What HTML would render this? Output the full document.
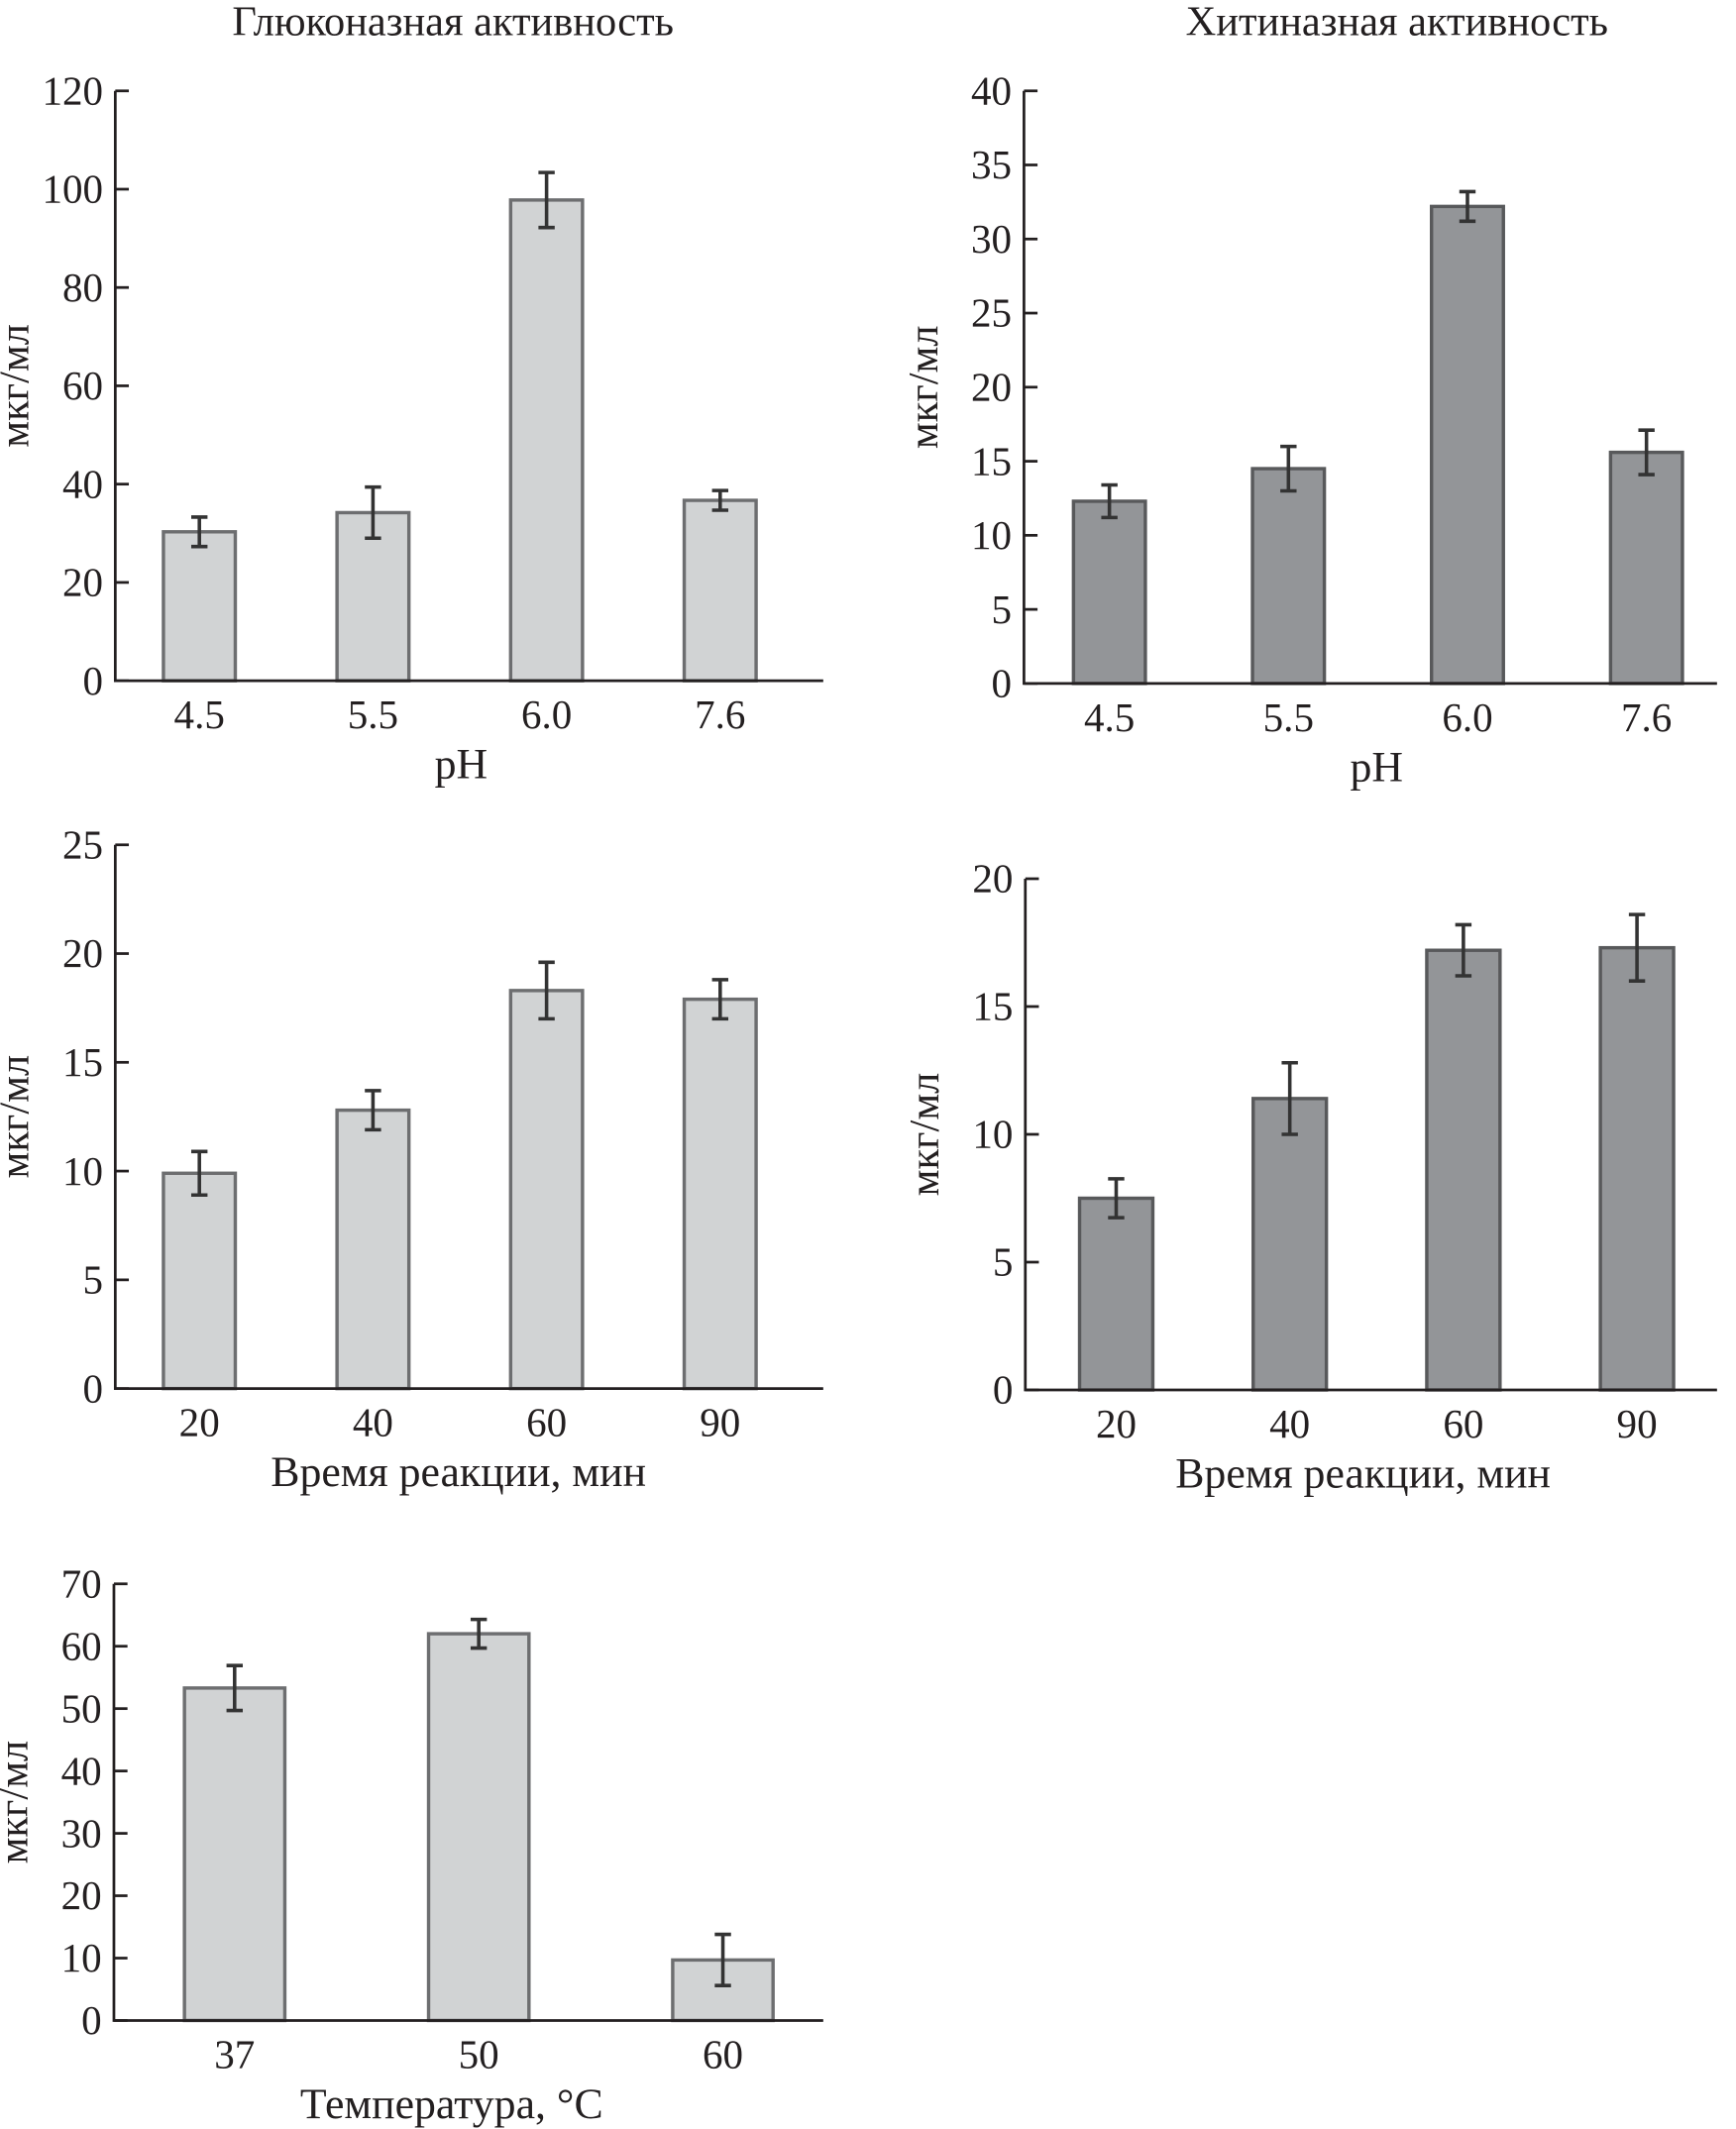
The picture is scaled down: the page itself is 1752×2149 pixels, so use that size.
<!DOCTYPE html>
<html><head><meta charset="utf-8"><style>
html,body{margin:0;padding:0;background:#fff}
svg{display:block}
text{font-family:"Liberation Serif",serif;fill:#231f20}
</style></head><body>
<svg id="fig" width="1752" height="2149" viewBox="0 0 1280 1570" xmlns="http://www.w3.org/2000/svg">
<text x="334" y="26" font-size="31" text-anchor="middle">Глюконазная активность</text>
<text x="1030" y="26" font-size="31" text-anchor="middle">Хитиназная активность</text>
</svg>
<script>
// Panel 1: glucanase vs pH
const p1Cats=["4.5","5.5","6.0","7.6"];
const p1Vals=[30.3,34.2,97.8,36.7];
const p1Err=[3,5.2,5.6,2];
const p1Ticks=[0,20,40,60,80,100,120];
// Panel 2: chitinase vs pH
const p2Cats=["4.5","5.5","6.0","7.6"];
const p2Vals=[12.3,14.5,32.2,15.6];
const p2Err=[1.1,1.5,1.0,1.5];
const p2Ticks=[0,5,10,15,20,25,30,35,40];
// Panel 3: glucanase vs time
const p3Cats=["20","40","60","90"];
const p3Vals=[9.9,12.8,18.3,17.9];
const p3Err=[1.0,0.9,1.3,0.9];
const p3Ticks=[0,5,10,15,20,25];
// Panel 4: chitinase vs time
const p4Cats=["20","40","60","90"];
const p4Vals=[7.5,11.4,17.2,17.3];
const p4Err=[0.76,1.4,1.0,1.3];
const p4Ticks=[0,5,10,15,20];
// Panel 5: glucanase vs temperature
const p5Cats=["37","50","60"];
const p5Vals=[53.3,62,9.7];
const p5Err=[3.6,2.3,4.1];
const p5Ticks=[0,10,20,30,40,50,60,70];

const NS="http://www.w3.org/2000/svg";
const svg=document.getElementById('fig');
function mk(tag,attrs,parent){const e=document.createElementNS(NS,tag);for(const k in attrs)e.setAttribute(k,attrs[k]);(parent||svg).appendChild(e);return e;}

function panel(cfg){
  const g=mk('g',{});
  
  
  const max=cfg.ticks[cfg.ticks.length-1];
  const y=v=>cfg.y0-(v/max)*(cfg.y0-cfg.yTop);
  const x=i=>cfg.x0+cfg.c0+i*cfg.step;
  cfg.vals.forEach((v,i)=>{
    const r=mk('rect',{x:x(i)-cfg.bw/2,y:y(v),width:cfg.bw,height:cfg.y0-y(v),fill:cfg.fill,stroke:cfg.stroke,'stroke-width':2.5},g);
    
    
    const e=cfg.err[i];
    const eb=mk('path',{d:`M${x(i)} ${y(v+e)}V${y(v-e)}M${x(i)-6} ${y(v+e)}H${x(i)+6}M${x(i)-6} ${y(v-e)}H${x(i)+6}`,stroke:'#333',fill:'none','stroke-width':2.6},g);
    
    
    const t=mk('text',{x:x(i),y:cfg.y0+35,'font-size':30,'text-anchor':'middle'},g);
    t.textContent=cfg.cats[i];
    
    
  });
  const ax=mk('path',{d:`M${cfg.x0} ${cfg.yTop}V${cfg.y0}H${cfg.xEnd}`,stroke:'#231f20',fill:'none','stroke-width':2},g);
  
  
  cfg.ticks.forEach(tv=>{
    mk('line',{x1:cfg.x0,x2:cfg.x0+10,y1:y(tv),y2:y(tv),stroke:'#231f20','stroke-width':2},g);
    const t=mk('text',{x:cfg.x0-9,y:y(tv)+10,'font-size':30,'text-anchor':'end'},g);
    t.textContent=tv;
    
    
  });
  const yl=mk('text',{transform:`translate(${cfg.x0-64},${(cfg.y0+cfg.yTop)/2}) rotate(-90)`,'font-size':31,'text-anchor':'middle'},g);
  yl.textContent='мкг/мл';
  
  
  const xl=mk('text',{x:cfg.xlX,y:cfg.y0+72,'font-size':32,'text-anchor':'middle'},g);
  xl.textContent=cfg.xlabel;
  
  
}
const light='#d1d3d4', dark='#939598';
panel({name:'panel-glucanase-ph',cats:p1Cats,vals:p1Vals,err:p1Err,ticks:p1Ticks,x0:85,yTop:67,y0:502,xEnd:607,c0:62,step:128,bw:53,fill:light,stroke:'#6d6e70',xlabel:'pH',xlX:340});
panel({name:'panel-chitinase-ph',cats:p2Cats,vals:p2Vals,err:p2Err,ticks:p2Ticks,x0:755,yTop:67,y0:504,xEnd:1266,c0:63,step:132,bw:53,fill:dark,stroke:'#58595b',xlabel:'pH',xlX:1015});
panel({name:'panel-glucanase-time',cats:p3Cats,vals:p3Vals,err:p3Err,ticks:p3Ticks,x0:85,yTop:623,y0:1024,xEnd:607,c0:62,step:128,bw:53,fill:light,stroke:'#6d6e70',xlabel:'Время реакции, мин',xlX:338});
panel({name:'panel-chitinase-time',cats:p4Cats,vals:p4Vals,err:p4Err,ticks:p4Ticks,x0:756,yTop:648,y0:1025,xEnd:1266,c0:67,step:128,bw:54,fill:dark,stroke:'#58595b',xlabel:'Время реакции, мин',xlX:1005});
panel({name:'panel-glucanase-temperature',cats:p5Cats,vals:p5Vals,err:p5Err,ticks:p5Ticks,x0:84,yTop:1168,y0:1490,xEnd:607,c0:89,step:180,bw:74,fill:light,stroke:'#6d6e70',xlabel:'Температура, °C',xlX:333});
</script>
</body></html>
